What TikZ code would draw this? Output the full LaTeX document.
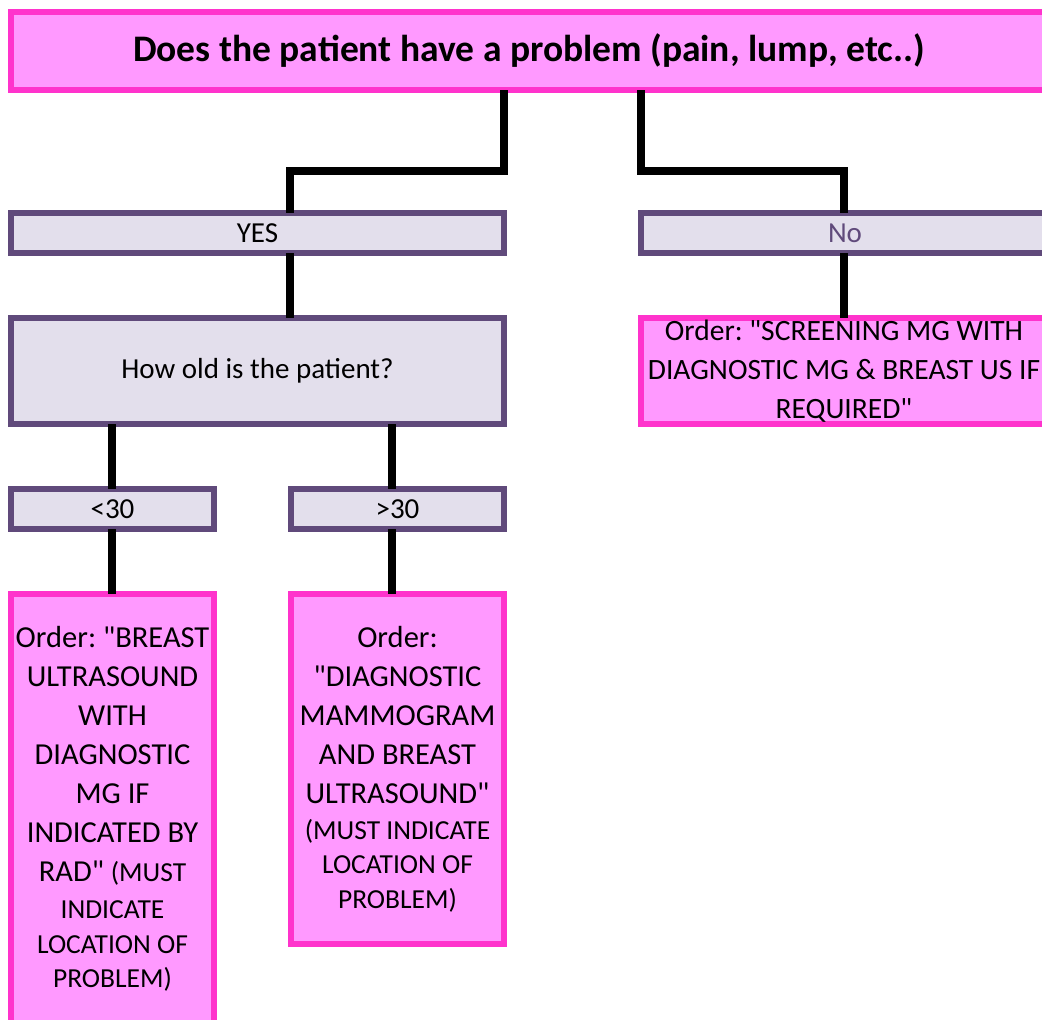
\documentclass[tikz,border=0pt]{standalone}
\usepackage{fontspec}
\setmainfont{Carlito}[Ligatures=TeXOff]
\definecolor{pinkfill}{RGB}{255,153,255}
\definecolor{pinkline}{RGB}{255,51,204}
\definecolor{purpline}{RGB}{96,74,123}
\definecolor{purpfill}{RGB}{227,223,236}
\newcommand\bigf{\fontsize{30.5bp}{34.5bp}\selectfont}
\newcommand\bigff{\fontsize{29.5bp}{34.5bp}\selectfont}
\newcommand\smf{\fontsize{27.5bp}{34.5bp}\selectfont}
\tikzset{
  pinkbox/.style={draw=pinkline, fill=pinkfill, line width=6bp, inner sep=0pt, outer sep=0pt, align=center, font=\smf},
  purpbox/.style={draw=purpline, fill=purpfill, line width=6bp, inner sep=0pt, outer sep=0pt, align=center},
  conn/.style={draw=black, line width=8bp},
  midtxt/.style={font=\fontsize{29bp}{34bp}\selectfont}
}
\frenchspacing
\begin{document}
\begin{tikzpicture}[x=1bp,y=-1bp]
\frenchspacing
\useasboundingbox (0,0) rectangle (1042,1020);
\fill[white] (0,0) rectangle (1042,1020);
\clip (0,0) rectangle (1042,1020);

\node[pinkbox, minimum width=1036bp, minimum height=78bp, font=\fontsize{37.5bp}{42bp}\selectfont\bfseries] (top) at (529,51) {Does the patient have a problem (pain, lump, etc..)};

\node[purpbox, midtxt, minimum width=493bp, minimum height=40bp] (yes) at (257.5,233) {YES};
\node[purpbox, midtxt, minimum width=408bp, minimum height=40bp, text=purpline] (no) at (845,233) {No};

\node[purpbox, midtxt, minimum width=493bp, minimum height=106bp] (age) at (257.5,371) {How old is the patient?};
\node[pinkbox, minimum width=406bp, minimum height=106bp] (ordno) at (844,371)
 {\bigff\frenchspacing Order: "SCREENING MG WITH\\[4.5bp]\bigff DIAGNOSTIC MG \& BREAST US IF\\[4.5bp]\bigff REQUIRED"};

\node[purpbox, midtxt, minimum width=203bp, minimum height=40bp] (under) at (112.5,509) {<30};
\node[purpbox, midtxt, minimum width=213bp, minimum height=40bp] (over) at (397.5,509) {>30};

\node[pinkbox, minimum width=203bp, minimum height=430bp] (ordlt) at (112.5,809)
 {\bigf\frenchspacing Order: "BREAST\\[4.5bp]\bigf ULTRASOUND\\[4.5bp]\bigf WITH\\[4.5bp]\bigf DIAGNOSTIC\\[4.5bp]\bigf MG IF\\[4.5bp]\bigf INDICATED BY\\[4.5bp]\bigf RAD" \smf(MUST\\[2.5bp]\smf INDICATE\\\smf LOCATION OF\\\smf PROBLEM)};
\node[pinkbox, minimum width=213bp, minimum height=350bp] (ordgt) at (397.5,769)
 {\bigf Order:\\[4.5bp]\bigf "DIAGNOSTIC\\[4.5bp]\bigf MAMMOGRAM\\[4.5bp]\bigf AND BREAST\\[4.5bp]\bigf ULTRASOUND"\\[1.5bp]\smf (MUST INDICATE\\\smf LOCATION OF\\\smf PROBLEM)};

\coordinate (jy) at (0,171);
\coordinate (xa) at (504,0);
\coordinate (xb) at (641,0);
\coordinate (xyes) at (290,0);
\coordinate (xno) at (844,0);
\coordinate (xlt) at (112,0);
\coordinate (xgt) at (392,0);

\draw[conn] (top.south -| xa) -- (xa |- jy) -| (yes.north -| xyes);
\draw[conn] (top.south -| xb) -- (xb |- jy) -| (no.north -| xno);
\draw[conn] (yes.south -| xyes) -- (age.north -| xyes);
\draw[conn] (no.south -| xno) -- (ordno.north -| xno);
\draw[conn] (age.south -| xlt) -- (under.north -| xlt);
\draw[conn] (age.south -| xgt) -- (over.north -| xgt);
\draw[conn] (under.south -| xlt) -- (ordlt.north -| xlt);
\draw[conn] (over.south -| xgt) -- (ordgt.north -| xgt);
\end{tikzpicture}
\end{document}
